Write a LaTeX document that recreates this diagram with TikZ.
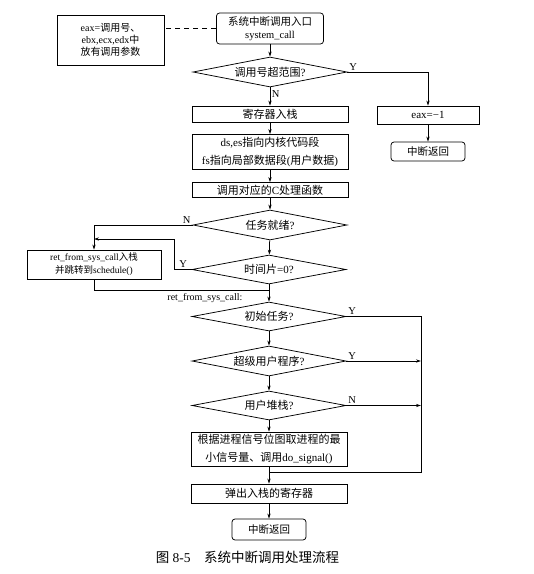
\documentclass[tikz,border=0pt]{standalone}
\usepackage{fontspec}
\setmainfont{Liberation Serif}
\newfontfamily\cjk{Noto Sans CJK SC}
\usetikzlibrary{shapes.geometric,arrows.meta}

% Chinese characters are set in the CJK font, the rest in the serif
\newXeTeXintercharclass\hanclass
\XeTeXinterchartokenstate=1
\newcommand\sethan[2]{\count255=#1 \loop\XeTeXcharclass\count255=\hanclass
  \ifnum\count255<#2 \advance\count255 by 1 \repeat}
\sethan{"3000}{"303F}
\sethan{"4E00}{"9FFF}
\sethan{"FF00}{"FFEF}
\XeTeXinterchartoks 0 \hanclass={\cjk}
\XeTeXinterchartoks 4095 \hanclass={\cjk}
\XeTeXinterchartoks \hanclass 0={\rmfamily}
\XeTeXinterchartoks \hanclass 4095={\rmfamily}

\begin{document}
\begin{tikzpicture}[x=1pt,y=-1pt,line width=0.75pt,
  >={Stealth[length=5pt,width=3.2pt]},
  box/.style={draw,rectangle,minimum width=156pt,inner sep=2pt,align=center,
    font=\fontsize{11}{17.5}\selectfont},
  term/.style={draw,rounded corners=3pt,inner sep=2pt,align=center,
    font=\fontsize{10.5}{13}\selectfont},
  test/.style={draw,diamond,aspect=5.5,minimum width=154pt,minimum height=30pt,inner sep=0pt,
    font=\fontsize{11}{13}\selectfont},
  yn/.style={inner sep=1.5pt,font=\fontsize{10.5}{12}\selectfont}]

\useasboundingbox (0,0) rectangle (534,574);

\node[box,minimum width=107pt,minimum height=50pt,font=\fontsize{10}{12}\selectfont] (note) at (110.5,40) {eax=调用号、\\ebx,ecx,edx中\\放有调用参数};
\node[term,minimum width=107pt,minimum height=31pt] (entry) at (270,28.5) {系统中断调用入口\\system\_call};
\node[test] (range) at (270,72) {调用号超范围?};
\node[box,minimum height=16pt] (push) at (270,114) {寄存器入栈};
\node[box,minimum width=102pt,minimum height=18pt] (neg) at (428,115) {eax=−1};
\node[term,minimum width=74pt,minimum height=19pt] (ret1) at (428,151.5) {中断返回};
\node[box,minimum height=35pt] (seg) at (270,152) {ds,es指向内核代码段\\fs指向局部数据段(用户数据)};
\node[box,minimum height=15pt] (callc) at (270,190) {调用对应的C处理函数};
\node[test] (ready) at (270,225) {任务就绪?};
\node[test,minimum height=29pt] (slice) at (269,269.5) {时间片=0?};
\node[box,minimum width=134pt,minimum height=29pt,font=\fontsize{9.5}{13}\selectfont] (sched) at (94,264.5) {ret\_from\_sys\_call入栈\\并跳转到schedule()};
\coordinate (merge) at (94,239);
\coordinate (rfs) at (269,290);
\node[test,minimum height=29pt] (init) at (269,316.5) {初始任务?};
\node[test] (super) at (269,361) {超级用户程序?};
\node[test,minimum height=29pt] (ustack) at (269,405.5) {用户堆栈?};
\node[box,minimum height=34pt] (sig) at (269,449) {根据进程信号位图取进程的最\\小信号量、调用do\_signal()};
\coordinate (rside) at (421,472);
\node[box,minimum height=19pt] (pop) at (269,493.5) {弹出入栈的寄存器};
\node[term,minimum width=74pt,minimum height=21pt] (ret2) at (269,529.5) {中断返回};
\node[font=\fontsize{13.5}{15}\selectfont] (cap) at (247.5,557) {图 8-5\quad 系统中断调用处理流程};

\draw[dash pattern=on 5pt off 4pt] (entry.west) -- (entry.west -| note.east);
\draw[->] (entry) -- (range);
\draw[->] (range) -- node[yn,right,pos=0.35]{N} (push);
\draw[->] (range.east) -| node[yn,above right,pos=0]{Y} (neg.north);
\draw[->] (neg) -- (ret1);
\draw[->] (push) -- (seg);
\draw[->] (seg) -- (callc);
\draw[->] (callc) -- (ready);
\draw[->] (ready) -- (slice);
\draw[->] (ready.west) -| node[yn,above,pos=0.03]{N} (sched.north);
\draw[->] (slice.west) -- node[yn,above]{Y} ++(-17,0) |- (merge);
\draw (sched.south) |- node[pos=0.817,below,font=\fontsize{10}{11}\selectfont]{ret\_from\_sys\_call:} (rfs);
\draw[->] (slice) -- (init);
\draw (init.east) -| node[yn,above right,pos=0]{Y} (rside) -- (rside -| sig.south);
\draw[->] (super.east) -- node[yn,above right,pos=0]{Y} (super.east -| rside);
\draw[->] (ustack.east) -- node[yn,above right,pos=0]{N} (ustack.east -| rside);
\draw[->] (init) -- (super);
\draw[->] (super) -- (ustack);
\draw[->] (ustack) -- (sig);
\draw[->] (sig) -- (pop);
\draw[->] (pop) -- (ret2);

\end{tikzpicture}
\end{document}
